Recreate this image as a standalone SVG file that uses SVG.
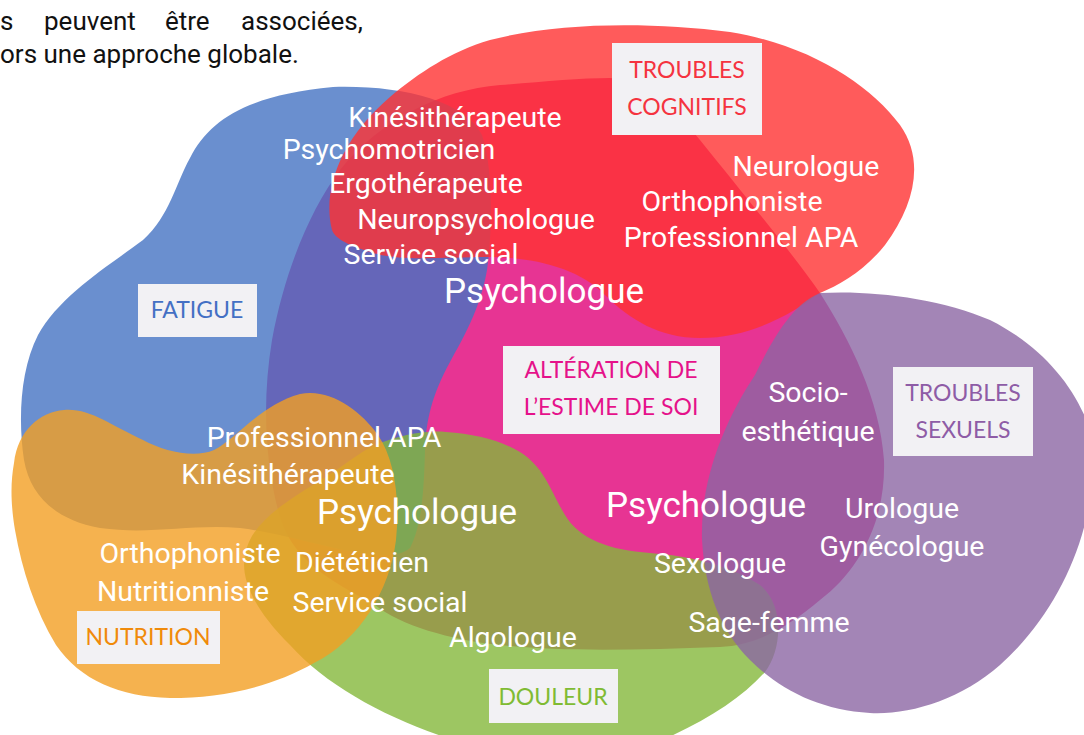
<svg xmlns="http://www.w3.org/2000/svg" width="1084" height="735" viewBox="0 0 1084 735">
<style>
.blob{fill-opacity:0.8}
.t{font-family:Roboto,"Liberation Sans",sans-serif;font-size:28.5px;fill:#ffffff;text-anchor:middle}
.big{font-size:35px}
.box{fill:#f2f1f4}
.lab{font-family:Lato,"Noto Sans",sans-serif;font-weight:400;font-size:23px;text-anchor:middle}
.intro{font-family:Roboto,"Liberation Sans",sans-serif;font-size:26px;fill:#111111}
</style>
<rect width="1084" height="735" fill="#ffffff"/>
<text class="intro"><tspan x="0" y="30">s</tspan><tspan x="44" y="30">peuvent</tspan><tspan x="165" y="30">être</tspan><tspan x="241" y="30">associées,</tspan><tspan x="0" y="63">ors une approche globale.</tspan></text>
<g id="blobs">
<path id="estime" fill="#e73493" d="M 609,78 C 650,78 675,110 700,140 C 740,190 790,250 820,293 C 850,340 880,400 884,460 C 886,520 860,570 820,600 C 790,625 760,645 720,647 C 640,650 560,652 500,645 C 450,640 400,625 375,605 C 330,580 290,560 278,510 C 265,460 262,400 272,340 C 285,270 310,210 340,170 C 380,120 440,90 500,85 C 540,82 580,78 609,78 Z"/>
<path id="fatigue" class="blob" fill="#4573c3" d="M 333,87 C 400,85 465,100 482,135 C 494,170 492,235 487,270 C 480,310 462,340 450,362 C 432,395 426,420 425,450 C 424,490 422,525 410,548 C 385,570 300,535 240,528 C 190,524 150,535 100,528 C 55,520 30,495 24,460 C 18,420 20,370 38,335 C 60,295 110,265 143,240 C 170,215 175,185 190,158 C 210,118 250,95 333,87 Z"/>
<path id="cognitifs" class="blob" fill="#ff3232" d="M 332,230 C 322,190 340,140 390,97 C 420,72 450,52 490,40 C 560,22 650,22 730,32 C 810,45 870,85 900,125 C 925,160 915,205 885,245 C 865,270 840,285 820,293 C 790,315 750,338 700,338 C 660,338 630,320 605,295 C 580,270 540,258 490,257 C 440,257 400,262 370,252 C 345,244 335,238 332,230 Z"/>
<path id="douleur" class="blob" fill="#85b83b" d="M 375,445 C 400,435 425,430 446,432 C 475,434 500,440 520,452 C 545,468 550,490 565,515 C 580,540 610,550 650,553 C 690,556 730,565 760,585 C 785,605 782,650 765,672 C 740,700 700,725 650,745 L 470,745 C 400,725 330,690 290,645 C 255,610 240,580 245,555 C 250,525 280,505 321,480 C 345,465 360,452 375,445 Z"/>
<path id="nutrition" class="blob" fill="#f39f23" d="M 14,463 C 18,430 40,412 64,410 C 90,408 110,425 143,440 C 165,452 195,458 214,450 C 235,440 260,405 300,394 C 330,388 360,410 378,435 C 395,460 400,500 396,540 C 390,590 360,640 314,663 C 270,688 220,698 170,698 C 120,697 80,680 56,645 C 35,610 22,570 15,530 C 10,500 11,480 14,463 Z"/>
<path id="sexuels" class="blob" fill="#8c66a4" d="M 820,293 C 870,290 940,298 990,320 C 1040,345 1075,385 1090,430 L 1090,500 C 1080,560 1050,620 1000,665 C 960,700 910,715 870,713 C 820,710 780,690 750,660 C 720,630 705,590 702,540 C 700,480 725,420 755,375 C 770,345 790,305 820,293 Z"/>
</g>
<g id="connectors"></g>
<g id="node-cognitifs">
<rect class="box" x="612" y="43" width="150" height="92"/>
<text class="lab" fill="#f5333f" x="687" y="78">TROUBLES</text>
<text class="lab" fill="#f5333f" x="687" y="115">COGNITIFS</text>
</g>
<g id="node-fatigue">
<rect class="box" x="138" y="284" width="119" height="53"/>
<text class="lab" fill="#4470c4" x="197" y="318">FATIGUE</text>
</g>
<g id="node-estime">
<rect class="box" x="503" y="346" width="217" height="88"/>
<text class="lab" fill="#e5128a" x="611" y="378">ALTÉRATION DE</text>
<text class="lab" fill="#e5128a" x="611" y="415">L’ESTIME DE SOI</text>
</g>
<g id="node-sexuels">
<rect class="box" x="893" y="367" width="140" height="89"/>
<text class="lab" fill="#8e5ca6" x="963" y="401">TROUBLES</text>
<text class="lab" fill="#8e5ca6" x="963" y="438">SEXUELS</text>
</g>
<g id="node-nutrition">
<rect class="box" x="77" y="611" width="143" height="53"/>
<text class="lab" fill="#f08a0a" x="148" y="645">NUTRITION</text>
</g>
<g id="node-douleur">
<rect class="box" x="489" y="669" width="129" height="54"/>
<text class="lab" fill="#80bb33" x="553" y="705">DOULEUR</text>
</g>
<g id="professionals">
<text class="t" x="455" y="127">Kinésithérapeute</text>
<text class="t" x="389" y="159">Psychomotricien</text>
<text class="t" x="426" y="193">Ergothérapeute</text>
<text class="t" x="476" y="229">Neuropsychologue</text>
<text class="t" x="431" y="264">Service social</text>
<text class="t big" x="544" y="303">Psychologue</text>
<text class="t" x="806" y="176">Neurologue</text>
<text class="t" x="732" y="211">Orthophoniste</text>
<text class="t" x="741" y="247">Professionnel APA</text>
<text class="t" x="808" y="402">Socio-</text>
<text class="t" x="808" y="441">esthétique</text>
<text class="t" x="324" y="447">Professionnel APA</text>
<text class="t" x="288" y="484">Kinésithérapeute</text>
<text class="t big" x="417" y="524">Psychologue</text>
<text class="t" x="190" y="563">Orthophoniste</text>
<text class="t" x="183" y="601">Nutritionniste</text>
<text class="t" x="362" y="572">Diététicien</text>
<text class="t" x="380" y="612">Service social</text>
<text class="t" x="513" y="647">Algologue</text>
<text class="t big" x="706" y="517">Psychologue</text>
<text class="t" x="902" y="518">Urologue</text>
<text class="t" x="902" y="556">Gynécologue</text>
<text class="t" x="720" y="573">Sexologue</text>
<text class="t" x="769" y="632">Sage-femme</text>
</g>
</svg>
